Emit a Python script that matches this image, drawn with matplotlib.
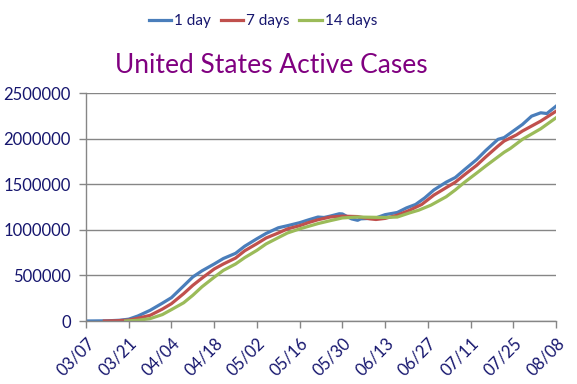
import datetime as dt
import matplotlib
matplotlib.use("Agg")
import matplotlib.pyplot as plt
import matplotlib.dates as mdates
from matplotlib.ticker import FuncFormatter, MultipleLocator

plt.rcParams['font.family'] = ['Lato', 'DejaVu Sans']

# values (year 2020)
blue_dates = ['03/07', '03/14', '03/18', '03/21', '03/24', '03/28', '04/01', '04/04', '04/08', '04/11',
              '04/14', '04/18', '04/21', '04/25', '04/28', '05/02', '05/05', '05/09', '05/12', '05/16',
              '05/19', '05/22', '05/24', '05/26', '05/29', '05/30', '06/01', '06/02', '06/04', '06/05',
              '06/08', '06/10', '06/13', '06/17', '06/20', '06/23', '06/26', '06/29', '07/03', '07/06',
              '07/09', '07/13', '07/16', '07/20', '07/22', '07/25', '07/28', '07/31', '08/03', '08/05',
              '08/08']
blue_vals = [0, 2000, 8000, 20000, 55000, 117000, 195000, 256000, 385000, 483000,
             550000, 625000, 685000, 742000, 820000, 902000, 960000, 1022000, 1045000, 1078000,
             1110000, 1140000, 1135000, 1150000, 1176000, 1174000, 1137000, 1120000, 1104000, 1120000,
             1125000, 1130000, 1166000, 1190000, 1240000, 1278000, 1350000, 1437000, 1522000, 1573000,
             1659000, 1770000, 1870000, 1992000, 2011000, 2083000, 2155000, 2246000, 2283000, 2275000,
             2355000]

red_dates = ['03/13', '03/17', '03/21', '03/24', '03/28', '04/01', '04/04', '04/08', '04/11', '04/14',
             '04/18', '04/21', '04/25', '04/28', '05/02', '05/05', '05/09', '05/12', '05/16', '05/19',
             '05/22', '05/26', '05/30', '06/04', '06/08', '06/10', '06/13', '06/17', '06/21', '06/25',
             '06/29', '07/03', '07/06', '07/09', '07/13', '07/16', '07/20', '07/22', '07/26', '07/28',
             '08/03', '08/08']
red_vals = [0, 3000, 10000, 30000, 62000, 130000, 190000, 300000, 391000, 470000,
            570000, 625000, 690000, 770000, 848000, 910000, 965000, 1010000, 1045000, 1080000,
            1110000, 1140000, 1150000, 1145000, 1120000, 1113000, 1125000, 1160000, 1214000, 1278000,
            1381000, 1462000, 1522000, 1603000, 1707000, 1800000, 1918000, 1973000, 2040000, 2083000,
            2192000, 2300000]

green_dates = ['03/20', '03/24', '03/28', '04/01', '04/04', '04/08', '04/11', '04/14', '04/18', '04/21',
               '04/25', '04/28', '05/02', '05/05', '05/09', '05/12', '05/16', '05/22', '05/26', '05/30',
               '06/04', '06/13', '06/17', '06/21', '06/24', '06/28', '07/03', '07/06', '07/09', '07/13',
               '07/16', '07/20', '07/22', '07/24', '07/28', '08/03', '08/08']
green_vals = [0, 8000, 26000, 70000, 125000, 200000, 282000, 375000, 480000, 555000,
              625000, 695000, 775000, 845000, 914000, 965000, 1010000, 1068000, 1100000, 1130000,
              1140000, 1135000, 1140000, 1185000, 1215000, 1270000, 1362000, 1437000, 1520000, 1622000,
              1700000, 1800000, 1850000, 1891000, 1992000, 2108000, 2228000]

labels = ['1 day', '7 days', '14 days']
colors = ['#4a7ebb', '#c0504d', '#9bbb59']


def to_dates(lst):
    return [dt.datetime.strptime('2020/' + s, '%Y/%m/%d') for s in lst]


fig = plt.figure(figsize=(5.77, 3.84), dpi=100)
ax = fig.add_axes([86 / 577, 1 - 321 / 384, (556 - 86) / 577, (321 - 93) / 384])

series = [(blue_dates, blue_vals), (red_dates, red_vals), (green_dates, green_vals)]
lines = []
for (d, v), lab, c in zip(series, labels, colors):
    ln, = ax.plot(to_dates(d), v, color=c, lw=2.3, label=lab)
    lines.append(ln)

grid_col = '#868686'
navy = '#16166e'
ax.set_xlim(dt.datetime(2020, 3, 7), dt.datetime(2020, 8, 8))
ax.set_ylim(0, 2500000)
ax.yaxis.set_major_locator(MultipleLocator(500000))
ax.yaxis.set_major_formatter(FuncFormatter(lambda v, p: '%d' % v))
ax.grid(axis='y', color=grid_col, lw=1)
ax.set_axisbelow(True)

ticks = [dt.datetime(2020, 3, 7) + dt.timedelta(days=14 * i) for i in range(12)]
ax.set_xticks(ticks)
ax.xaxis.set_major_formatter(mdates.DateFormatter('%m/%d'))

for s in ['top', 'right']:
    ax.spines[s].set_visible(False)
for s in ['left', 'bottom']:
    ax.spines[s].set_color(grid_col)
    ax.spines[s].set_linewidth(1)

ax.tick_params(axis='both', colors=grid_col, labelcolor=navy, labelsize=12, length=5, width=1)
ax.tick_params(axis='y', pad=6)
ax.tick_params(axis='x', pad=5)
for lab in ax.get_xticklabels():
    lab.set_rotation(45)
    lab.set_ha('right')
    lab.set_va('top')
    lab.set_rotation_mode('anchor')

fig.text(271 / 577, 1 - 73 / 384, 'United States Active Cases', color='#800080', fontsize=19,
         ha='center', va='baseline')

leg = fig.legend(handles=lines, loc='center', bbox_to_anchor=(263 / 577, 1 - 21 / 384), ncol=3,
                 frameon=False, fontsize=11, handlelength=1.5, handletextpad=0.2, columnspacing=0.6,
                 borderpad=0.2)
for t in leg.get_texts():
    t.set_color(navy)

fig.savefig('out.png', dpi=100)
